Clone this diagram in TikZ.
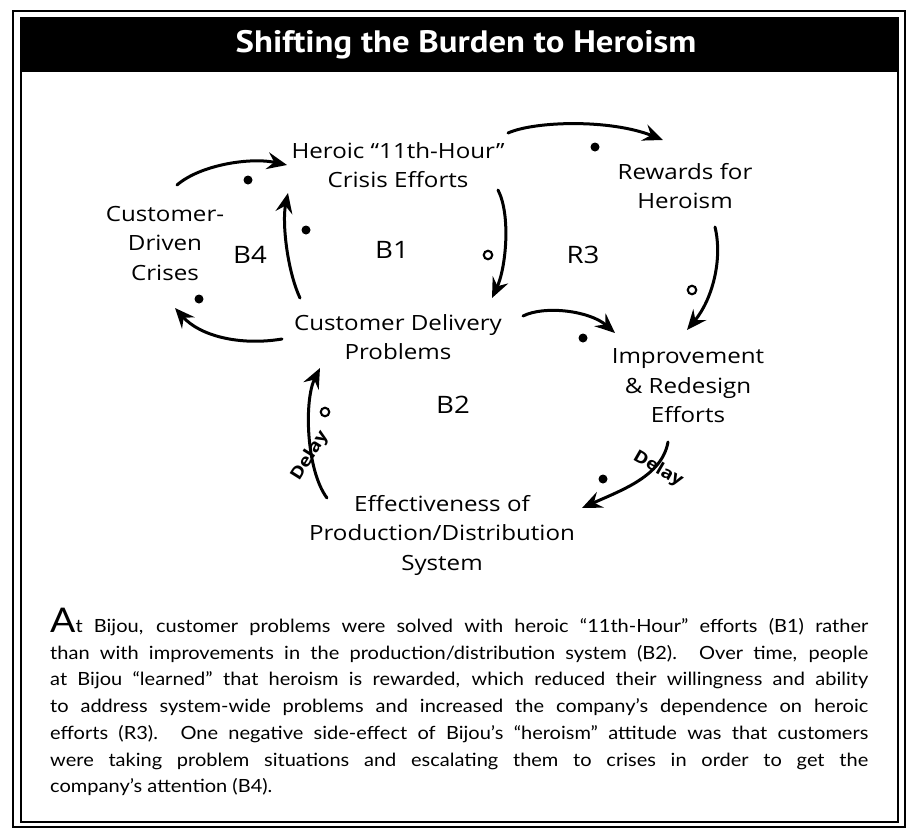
\documentclass[tikz,border=0pt]{standalone}
\usepackage{fontspec}
\setmainfont{Lato}[FakeStretch=1.1]
\newfontfamily\handfont{Open Sans}[FakeStretch=1.15]
\newfontfamily\headfont{PT Sans}[FakeStretch=1.12]
\usetikzlibrary{arrows.meta}

% one justified line of the caption, stretched to the full text width
\newcommand\fullline[1]{\makebox[818pt][s]{#1}}

\begin{document}
\begin{tikzpicture}[x=1pt,y=-1pt,
  lbl/.style={font=\handfont\fontsize{21}{29.5}\selectfont, align=center, inner sep=0pt},
  looplbl/.style={font=\handfont\fontsize{24}{24}\selectfont, inner sep=0pt},
  link/.style={line width=3pt, line cap=round, -{Stealth[length=20pt,width=17pt,inset=7pt]}},
  same/.style={circle, fill, inner sep=0pt, minimum size=9pt},
  opp/.style={circle, draw, line width=2.1pt, inner sep=0pt, minimum size=8.5pt},
  delaylbl/.style={font=\handfont\bfseries\fontsize{17}{17}\selectfont, inner sep=0pt}]

\useasboundingbox (0,0) rectangle (911,828);
\fill[white] (0,0) rectangle (911,828);

% double frame and title bar
\draw[line width=1.4pt] (13,11) rectangle (905,827);
\draw[line width=1.4pt] (21,18) rectangle (898,822);
\fill (21,18) rectangle (898,72);
\node[text=white, font=\headfont\bfseries\fontsize{31}{31}\selectfont, inner sep=0pt] (title) at (466,45) {Shifting the Burden to Heroism};

% variables
\node[lbl] (heroic)  at (398,165) {Heroic “11th-Hour”\\Crisis Efforts};
\node[lbl] (rewards) at (685,186) {Rewards for\\Heroism};
\node[lbl] (crises)  at (165,243) {Customer-\\Driven\\Crises};
\node[lbl] (cdp)     at (398,337) {Customer Delivery\\Problems};
\node[lbl] (improve) at (688,386) {Improvement\\\& Redesign\\Efforts};
\node[lbl] (effect)  at (442,535) {Effectiveness of\\Production/Distribution\\System};

% loop labels
\node[looplbl] (b4) at (250,255) {B4};
\node[looplbl] (b1) at (392,250) {B1};
\node[looplbl] (r3) at (583,255) {R3};
\node[looplbl] (b2) at (453,405) {B2};

% causal links
\draw[link] ([shift={(12,-58)}]crises.center) .. controls (200,165) and (250,157) .. ([shift={(-111,0)}]heroic.center);
\draw[link] ([shift={(-98,-39)}]cdp.center) .. controls (287,270) and (282,222) .. ([shift={(-110,28)}]heroic.center);
\draw[link] ([shift={(100,25)}]heroic.center) .. controls (511,215) and (506,268) .. ([shift={(94,-39)}]cdp.center);
\draw[link] ([shift={(110,-32)}]heroic.center) .. controls (535,121) and (610,119) .. ([shift={(-22,-46)}]rewards.center);
\draw[link] ([shift={(30,41)}]rewards.center) .. controls (723,260) and (712,300) .. ([shift={(-1,-56)}]improve.center);
\draw[link] ([shift={(125,-21)}]cdp.center) .. controls (545,305) and (590,311) .. ([shift={(-73,-53)}]improve.center);
\draw[link] ([shift={(-20,56)}]improve.center) .. controls (662,476) and (622,490) .. ([shift={(140,-27)}]effect.center);
\draw[link] ([shift={(-115,-37)}]effect.center) .. controls (306,470) and (304,400) .. ([shift={(-78,31)}]cdp.center);
\draw[link] ([shift={(-116,2)}]cdp.center) .. controls (240,346) and (200,336) .. ([shift={(10,65)}]crises.center);

% link polarities
\node[same] (p1) at (248,180) {};
\node[same] (p2) at (306,230) {};
\node[opp]  (p3) at (488,255) {};
\node[same] (p4) at (595,147) {};
\node[opp]  (p5) at (692,290) {};
\node[same] (p6) at (583,338) {};
\node[same] (p7) at (603,479) {};
\node[opp]  (p8) at (325,412) {};
\node[same] (p9) at (199,299) {};

% delays
\node[delaylbl, rotate=58]  (d1) at (310,456) {Delay};
\node[delaylbl, rotate=-30] (d2) at (658,469) {Delay};

% caption
\node[anchor=north west, inner sep=0pt, text width=818pt, align=justify,
      font=\fontsize{18.2}{26.7}\selectfont] (body) at (50,608)
{\fullline{{\fontsize{34}{34}\selectfont A}t Bijou, customer problems were solved with heroic “11th-Hour” efforts (B1) rather}\\
\fullline{than with improvements in the production/distribution system (B2). Over time, people}\\
\fullline{at Bijou “learned” that heroism is rewarded, which reduced their willingness and ability}\\
\fullline{to address system-wide problems and increased the company’s dependence on heroic}\\
\fullline{efforts (R3). One negative side-effect of Bijou’s “heroism” attitude was that customers}\\
\fullline{were taking problem situations and escalating them to crises in order to get the}\\
company’s attention (B4).};
\end{tikzpicture}
\end{document}
